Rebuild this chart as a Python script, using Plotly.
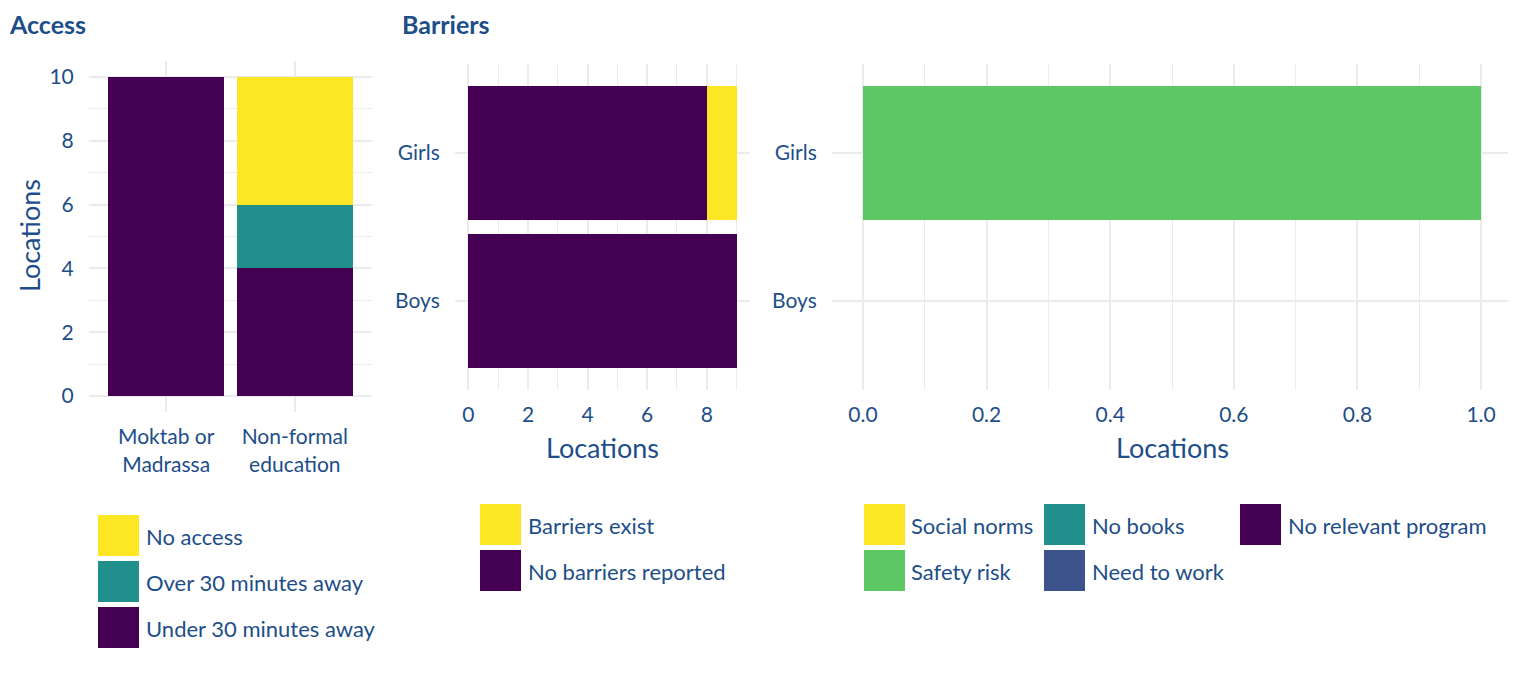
import plotly.graph_objects as go

W, H = 1508, 681   # page body has an 8px margin
OFF = 8

# ---------------- data ----------------
access_categories = ["Moktab or<br>Madrassa", "Non-formal<br>education"]
access_under30 = [10, 4]
access_over30 = [0, 2]
access_noaccess = [0, 4]

barrier_groups = ["Girls", "Boys"]
no_barriers = [8, 9]
barriers_exist = [1, 0]

reason_groups = ["Girls", "Boys"]
social_norms = [0, 0]
no_books = [0, 0]
no_relevant_program = [0, 0]
safety_risk = [1, 0]
need_to_work = [0, 0]

access_legend = ["No access", "Over 30 minutes away", "Under 30 minutes away"]
barrier_legend = ["Barriers exist", "No barriers reported"]
reason_legend = ["Social norms", "No books", "No relevant program", "Safety risk", "Need to work"]

# ---------------- style ----------------
YELLOW = "#FDE725"
TEAL = "#21908C"
PURPLE = "#440154"
GREEN = "#5DC863"
BLUE = "#3B528B"
TXT = "#1d4e89"
GRID = "#EBEBEB"
FONT = "Lato"


def px(x):
    return (x - OFF) / W


def py(y):
    return 1 - (y - OFF) / H


fig = go.Figure()


def bar(x, y, name, color, xa, ya, orient):
    fig.add_trace(go.Bar(
        x=x, y=y, name=name, orientation=orient,
        marker=dict(color=color, line=dict(width=0)),
        xaxis=xa, yaxis=ya, showlegend=False,
    ))


# Access panel (vertical stacked)
bar(access_categories, access_under30, "Under 30 minutes away", PURPLE, "x", "y", "v")
bar(access_categories, access_over30, "Over 30 minutes away", TEAL, "x", "y", "v")
bar(access_categories, access_noaccess, "No access", YELLOW, "x", "y", "v")

# Barriers panel (horizontal stacked)
bar(no_barriers, barrier_groups, "No barriers reported", PURPLE, "x2", "y2", "h")
bar(barriers_exist, barrier_groups, "Barriers exist", YELLOW, "x2", "y2", "h")

# Reasons panel
bar(no_relevant_program, reason_groups, "No relevant program", PURPLE, "x3", "y3", "h")
bar(need_to_work, reason_groups, "Need to work", BLUE, "x3", "y3", "h")
bar(no_books, reason_groups, "No books", TEAL, "x3", "y3", "h")
bar(safety_risk, reason_groups, "Safety risk", GREEN, "x3", "y3", "h")
bar(social_norms, reason_groups, "Social norms", YELLOW, "x3", "y3", "h")

tickfont = dict(family=FONT, size=21, color=TXT)
common = dict(
    showline=False, zeroline=False, gridcolor=GRID, gridwidth=2,
    ticks="outside", tickcolor="rgba(0,0,0,0)", tickfont=tickfont,
)

fig.update_layout(
    width=W, height=H,
    margin=dict(l=0, r=0, t=0, b=0),
    paper_bgcolor="white", plot_bgcolor="white",
    barmode="stack", bargap=0.1,
    showlegend=False,
    font=dict(family=FONT, color=TXT),
    xaxis=dict(domain=[px(89), px(372)], anchor="y", range=[-0.6, 1.6],
               categoryorder="array", categoryarray=access_categories,
               ticklen=6, **common),
    yaxis=dict(domain=[py(412), py(61)], anchor="x", range=[-0.5, 10.5],
               dtick=2, tick0=0, ticklen=10,
               minor=dict(dtick=1, tick0=0, showgrid=True, gridcolor=GRID, gridwidth=1),
               **common),
    xaxis2=dict(domain=[px(455), px(750)], anchor="y2", range=[-0.45, 9.45],
                dtick=2, tick0=0, ticklen=6,
                minor=dict(dtick=1, tick0=0, showgrid=True, gridcolor=GRID, gridwidth=1),
                **common),
    yaxis2=dict(domain=[py(390), py(64)], anchor="x2", range=[-0.6, 1.6],
                categoryorder="array", categoryarray=barrier_groups[::-1],
                ticklen=10, **common),
    xaxis3=dict(domain=[px(832), px(1512)], anchor="y3", range=[-0.05, 1.05],
                dtick=0.2, tick0=0, tickformat=".1f", ticklen=6,
                minor=dict(dtick=0.1, tick0=0, showgrid=True, gridcolor=GRID, gridwidth=1),
                **common),
    yaxis3=dict(domain=[py(390), py(64)], anchor="x3", range=[-0.6, 1.6],
                categoryorder="array", categoryarray=reason_groups[::-1],
                ticklen=10, **common),
)

ann = []


def text(x, y, s, size=22, bold=False, xanchor="left", angle=0, yanchor="middle"):
    ann.append(dict(
        x=px(x), y=py(y), xref="paper", yref="paper", text=(f"<b>{s}</b>" if bold else s),
        showarrow=False, xanchor=xanchor, yanchor=yanchor, textangle=angle, borderpad=0,
        font=dict(family=FONT, size=size, color=TXT),
    ))


text(8, 8, "Access", size=25, bold=True, yanchor="top")
text(401, 8, "Barriers", size=25, bold=True, yanchor="top")
text(30, 236, "Locations", size=27, xanchor="center", angle=-90)
text(602, 447, "Locations", size=27, xanchor="center")
text(1172, 447, "Locations", size=27, xanchor="center")

shapes = []


def key(x0, y0, label, color, tx, size=41):
    shapes.append(dict(type="rect", xref="paper", yref="paper",
                       x0=px(x0), x1=px(x0 + size), y0=py(y0 + size), y1=py(y0),
                       fillcolor=color, line=dict(width=0)))
    text(tx - 3, y0 + size / 2 + 1, label, size=22)


# Access legend
access_colors = [YELLOW, TEAL, PURPLE]
for i, (lab, col) in enumerate(zip(access_legend, access_colors)):
    key(98, 515 + i * 46, lab, col, 148)

# Barrier legend
barrier_colors = [YELLOW, PURPLE]
for i, (lab, col) in enumerate(zip(barrier_legend, barrier_colors)):
    key(480, 504 + i * 46, lab, col, 530)

# Reasons legend (3 columns, 2 rows)
reason_colors = {"Social norms": YELLOW, "No books": TEAL, "No relevant program": PURPLE,
                 "Safety risk": GREEN, "Need to work": BLUE}
reason_pos = {"Social norms": (864, 504, 913), "No books": (1044, 504, 1094),
              "No relevant program": (1240, 504, 1290), "Safety risk": (864, 550, 913),
              "Need to work": (1044, 550, 1094)}
for lab in reason_legend:
    x0, y0, tx = reason_pos[lab]
    key(x0, y0, lab, reason_colors[lab], tx)

fig.update_layout(annotations=ann, shapes=shapes)
fig.write_html("out.html")
